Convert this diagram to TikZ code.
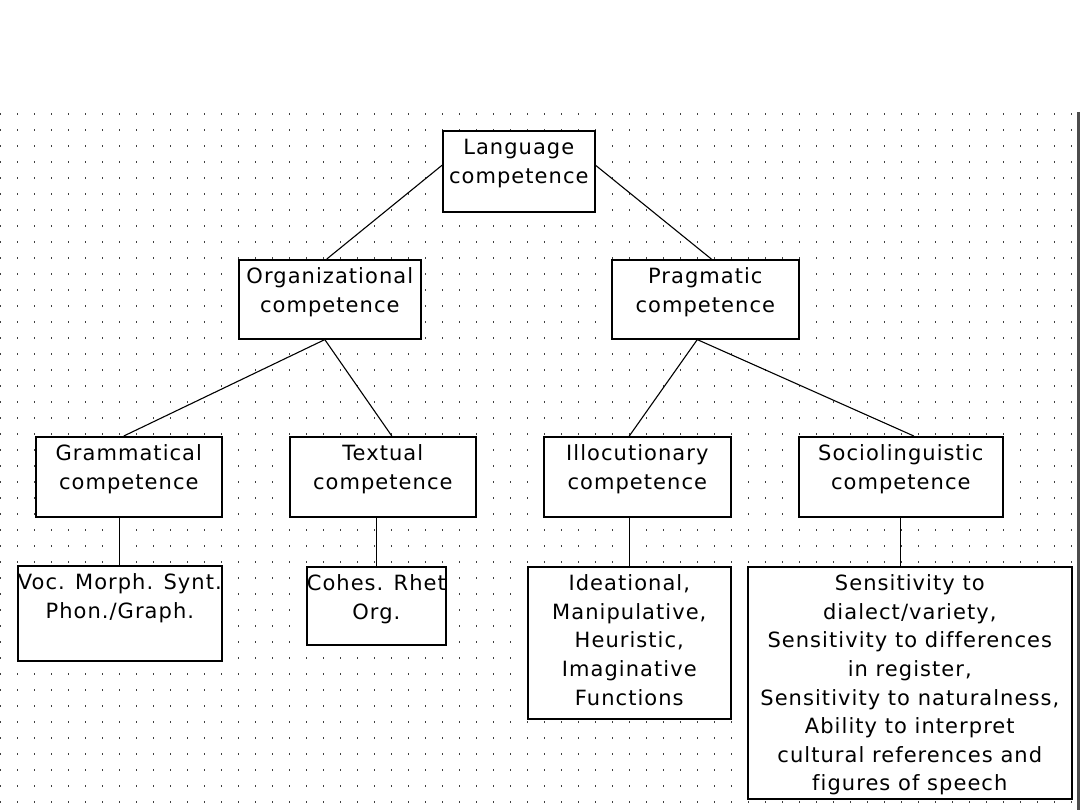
\documentclass[tikz,border=0pt]{standalone}
\usepackage{fontspec}
\setmainfont{DejaVu Sans}[LetterSpace=5, Ligatures=NoCommon]
\usepackage{tikz}
\usetikzlibrary{positioning}
\newcommand{\geneva}{\fontsize{21}{28.6}\selectfont}
\newcommand{\lines}[1]{\begin{tabular}[t]{@{}c@{}}#1\end{tabular}}

\begin{document}
\begin{tikzpicture}[
    x=1pt, y=-1pt,
    box/.style={draw, fill=white, line width=1.6pt, inner sep=0pt, anchor=north west,
                font=\geneva, text height=24pt},
    link/.style={line width=1.1pt},
]
\useasboundingbox (0,0) rectangle (1080,810);

% dotted drawing grid
\foreach \i in {0,...,63}
  \foreach \j in {0,...,43}
    \fill[black!75] (0.7+17*\i-0.7,114+16*\j-0.7) rectangle ++(1.4,1.4);
\draw[line width=3pt, black!70] (1078.5,112) -- (1078.5,810);

% levels of the tree
\node[box, minimum width=152pt, text depth=57pt] (lang) at (442,130) {\lines{Language\\competence}};

\node[box, minimum width=182pt, text depth=55pt] (org) at (238,259) {\lines{Organizational\\competence}};
\node[box, minimum width=187pt, text depth=55pt] (prag) at (611,259) {\lines{Pragmatic\\competence}};

\node[box, minimum width=186pt, text depth=56pt] (gram) at (35,436) {\lines{Grammatical\\competence}};
\node[box, minimum width=186pt, text depth=56pt] (text) at (289,436) {\lines{Textual\\competence}};
\node[box, minimum width=187pt, text depth=56pt] (illoc) at (543,436) {\lines{Illocutionary\\competence}};
\node[box, minimum width=204pt, text depth=56pt] (socio) at (798,436) {\lines{Sociolinguistic\\competence}};

\node[box, minimum width=204pt, text depth=71pt] (voc) at (17,565) {\lines{Voc. Morph. Synt.\\Phon./Graph.}};
\node[box, minimum width=136pt, text depth=54pt] (cohes) at (306,566) {\lines{Cohes. Rhet\\Org.}};
\node[box, minimum width=203pt, text depth=128pt] (ideat) at (527,566)
    {\lines{Ideational,\\Manipulative,\\Heuristic,\\Imaginative\\Functions}};
\node[box, minimum width=324pt, text depth=208pt] (sens) at (747,566)
    {\lines{Sensitivity to\\dialect/variety,\\Sensitivity to differences\\in register,\\Sensitivity to naturalness,\\Ability to interpret\\cultural references and\\figures of speech}};

\draw[link] ([yshift=6]lang.west) -- ([xshift=-3]org.north);
\draw[link] ([yshift=6]lang.east) -- ([xshift=6]prag.north);
\draw[link] ([xshift=-5]org.south) -- ([xshift=-5]gram.north);
\draw[link] ([xshift=-5]org.south) -- ([xshift=9]text.north);
\draw[link] ([xshift=-8]prag.south) -- ([xshift=-8]illoc.north);
\draw[link] ([xshift=-8]prag.south) -- ([xshift=13]socio.north);

\draw[link] (voc.north) -- (voc.north |- gram.south);
\draw[link] (cohes.north) -- (cohes.north |- text.south);
\draw[link] (ideat.north) -- (ideat.north |- illoc.south);
\draw[link] (socio.south) -- (socio.south |- sens.north);
\end{tikzpicture}
\end{document}
